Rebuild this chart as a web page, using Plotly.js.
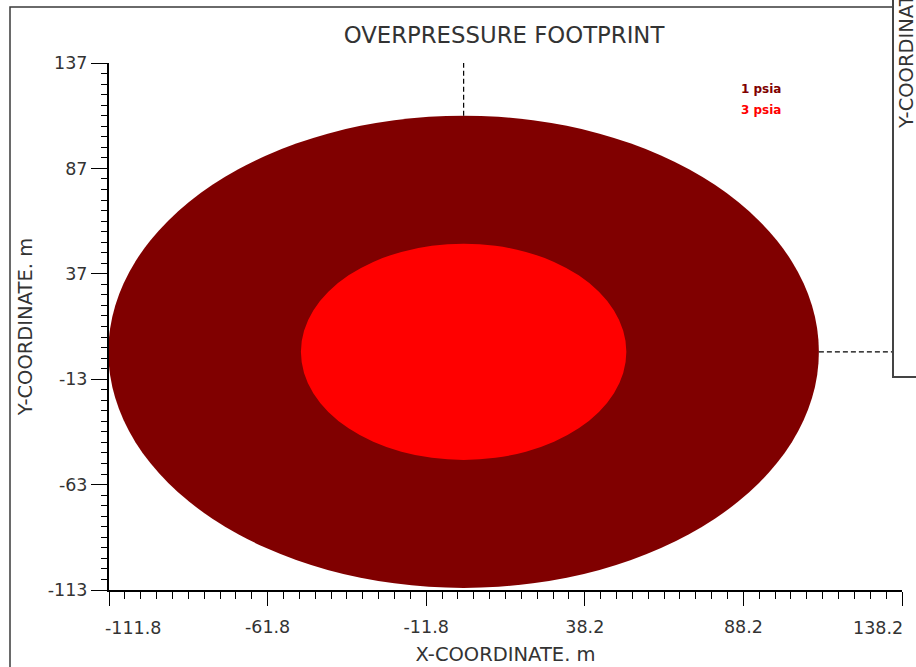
<!DOCTYPE html>
<html>
<head>
<meta charset="utf-8">
<script src="https://cdn.plot.ly/plotly-3.0.1.min.js"></script>
<style>
  html, body { margin: 0; padding: 0; background: #ffffff; }
  #chart { width: 916px; height: 667px; }
</style>
</head>
<body>
<div id="chart"></div>
<script>
// ---- data ----
const levels = ['1 psia', '3 psia'];          // overpressure levels
const radii = [112, 51.3];                     // footprint radius (m) for each level
const originX = 0;                             // footprint centre, x (m)
const originY = 0;                             // footprint centre, y (m)
const xRange = [-111.8, 138.2];
const yRange = [-113, 137];
const xTickVals = [-111.8, -61.8, -11.8, 38.2, 88.2, 138.2];
const xTickText = ['-111.8', '-61.8', '-11.8', '38.2', '88.2', '138.2'];
const yTickVals = [-113, -63, -13, 37, 87, 137];
const yTickText = ['-113', '-63', '-13', '37', '87', '137'];
const minorStep = 5;

// ---- styles ----
const levelColors = ['#800000', '#ff0000'];
const FONT = 'DejaVu Sans, Verdana, sans-serif';
const TXT = '#333333';

// layout geometry (pixels)
const W = 916, H = 667;
const M = { l: 109, r: 14, t: 63, b: 77 };
const PW = W - M.l - M.r, PH = H - M.t - M.b;
const px2x = p => (p - M.l) / PW;
const py2y = p => (H - M.b - p) / PH;

const shapes = [];
// outer window frame (only left/top edges visible)
shapes.push({
  type: 'rect', xref: 'paper', yref: 'paper', layer: 'above',
  x0: px2x(10), x1: px2x(W + 40), y0: py2y(H + 40), y1: py2y(7),
  line: { color: '#3a3a3a', width: 1.5 }, fillcolor: 'rgba(0,0,0,0)'
});
// footprints
levels.forEach((lv, i) => {
  const r = radii[i];
  shapes.push({
    type: 'circle', xref: 'x', yref: 'y', layer: 'below',
    x0: originX - r, x1: originX + r, y0: originY - r, y1: originY + r,
    fillcolor: levelColors[i], line: { width: 0 }
  });
});
// dashed reference lines through the centre
const rMax = Math.max(...radii);
shapes.push({
  type: 'line', xref: 'x', yref: 'y', layer: 'above',
  x0: originX, x1: originX, y0: originY + rMax, y1: yRange[1],
  line: { color: '#000', width: 1.2, dash: '5px,3px' }
});
shapes.push({
  type: 'line', xref: 'x', yref: 'y', layer: 'above',
  x0: originX + rMax, x1: xRange[1], y0: originY, y1: originY,
  line: { color: '#000', width: 1.2, dash: '5px,3px' }
});
// neighbouring window on the right
shapes.push({
  type: 'rect', xref: 'paper', yref: 'paper', layer: 'above',
  x0: px2x(893), x1: px2x(W + 40), y0: py2y(377), y1: py2y(-40),
  line: { color: '#444444', width: 2 }, fillcolor: '#ffffff'
});

const annotations = [];
const legendY = [89, 110];
levels.forEach((lv, i) => {
  annotations.push({
    xref: 'paper', yref: 'paper', x: px2x(761), y: py2y(legendY[i]),
    xanchor: 'center', yanchor: 'middle', showarrow: false,
    text: '<b>' + lv + '</b>',
    font: { family: FONT, size: 12, color: levelColors[i] }
  });
});
annotations.push({
  xref: 'paper', yref: 'paper', x: px2x(907), y: py2y(40),
  xanchor: 'center', yanchor: 'middle', showarrow: false, textangle: -90,
  text: 'Y-COORDINATE. m',
  font: { family: FONT, size: 19.5, color: TXT }
});
// end tick labels of the x axis are pulled inward, as in the reference
const lastI = xTickVals.length - 1;
annotations.push({
  xref: 'x', yref: 'paper', x: xTickVals[0], y: py2y(627.5),
  xanchor: 'left', yanchor: 'middle', xshift: -6, showarrow: false,
  text: xTickText[0], font: { family: FONT, size: 17.5, color: TXT }
});
annotations.push({
  xref: 'x', yref: 'paper', x: xTickVals[lastI], y: py2y(627.5),
  xanchor: 'right', yanchor: 'middle', xshift: 3, showarrow: false,
  text: xTickText[lastI], font: { family: FONT, size: 17.5, color: TXT }
});
const xTickShown = xTickText.map((t, i) => (i === 0 || i === lastI) ? '' : t);

const axisCommon = {
  showgrid: false, zeroline: false, showline: true, linecolor: '#000', linewidth: 2,
  ticks: 'outside', tickcolor: '#000', tickwidth: 1,
  tickmode: 'array', fixedrange: true,
  tickfont: { family: FONT, size: 17.5, color: TXT },
  automargin: false
};

const layout = {
  width: W, height: H, margin: M,
  paper_bgcolor: '#ffffff', plot_bgcolor: '#ffffff',
  showlegend: false,
  title: {
    text: 'OVERPRESSURE FOOTPRINT',
    font: { family: FONT, size: 22.8, color: TXT },
    x: px2x(504), xref: 'paper', xanchor: 'center',
    y: 1 - 35 / H, yref: 'container', yanchor: 'middle'
  },
  xaxis: Object.assign({}, axisCommon, {
    range: xRange, tickvals: xTickVals, ticktext: xTickShown, ticklen: 14,
    ticklabelstandoff: 6,
    minor: { tickmode: 'linear', tick0: xRange[0], dtick: minorStep, ticks: 'outside', ticklen: 7, tickcolor: '#000', tickwidth: 1, showgrid: false },
    title: { text: 'X-COORDINATE. m', font: { family: FONT, size: 19.5, color: TXT }, standoff: 11 }
  }),
  yaxis: Object.assign({}, axisCommon, {
    range: yRange, tickvals: yTickVals, ticktext: yTickText, ticklen: 16,
    minor: { tickmode: 'linear', tick0: yRange[0], dtick: minorStep, ticks: 'outside', ticklen: 6, tickcolor: '#000', tickwidth: 1, showgrid: false },
    title: { text: 'Y-COORDINATE. m', font: { family: FONT, size: 19.5, color: TXT }, standoff: 10 }
  }),
  shapes: shapes,
  annotations: annotations
};

const data = [{
  type: 'scatter', mode: 'markers', x: [originX], y: [originY],
  marker: { size: 1, color: 'rgba(0,0,0,0)' }, hoverinfo: 'skip', showlegend: false
}];

Plotly.newPlot('chart', data, layout, { staticPlot: true, displayModeBar: false });
</script>
</body>
</html>
